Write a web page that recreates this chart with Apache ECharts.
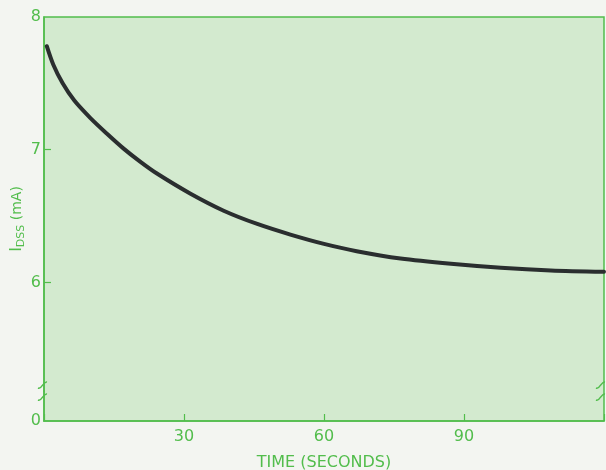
<!DOCTYPE html>
<html>
<head>
<meta charset="utf-8">
<script src="https://cdn.jsdelivr.net/npm/echarts@6/dist/echarts.min.js"></script>
<style>
  html, body { margin: 0; padding: 0; background: #f3f5f1; }
  #chart { width: 606px; height: 470px; }
</style>
</head>
<body>
<div id="chart"></div>
<script>
// Data
var timeSeconds = [0.6, 2.0, 4.0, 6.5, 9.9, 13.5, 17.0, 20.6, 24.2, 31.3, 38.5, 45.7, 52.8, 60.0, 67.0, 76.4, 87.2, 97.9, 108.6, 120];
var idssValues = [7.78, 7.64, 7.50, 7.37, 7.24, 7.12, 7.01, 6.91, 6.82, 6.67, 6.54, 6.44, 6.36, 6.29, 6.235, 6.18, 6.14, 6.11, 6.09, 6.08];
var xTickLabels = [30, 60, 90];
var yTickLabels = [0, 6, 7, 8];
var yTicks = [6, 7];
var yBreak = { start: 0.23, end: 5.185 };

var green = '#52bd4c';
var chart = echarts.init(document.getElementById('chart'), null, { renderer: 'canvas' });

var points = timeSeconds.map(function (t, i) { return [t, idssValues[i]]; });

chart.setOption({
  backgroundColor: '#f3f5f1',
  animation: false,
  grid: {
    left: 44, right: 2, top: 17, bottom: 49,
    show: true,
    backgroundColor: '#d3eacf',
    borderColor: green,
    borderWidth: 1.5,
    outerBoundsMode: 'none'
  },
  xAxis: {
    type: 'value',
    min: 0, max: 120, interval: 30,
    name: 'TIME (SECONDS)',
    nameLocation: 'middle',
    nameGap: 34,
    nameMoveOverlap: false,
    nameTextStyle: { color: green, fontFamily: 'DejaVu Sans', fontSize: 16 },
    axisLine: { show: true, lineStyle: { color: green, width: 1.5 } },
    axisTick: { show: true, inside: true, length: 7, lineStyle: { color: green, width: 1.2 } },
    axisLabel: {
      color: green, fontFamily: 'DejaVu Sans', fontSize: 16, margin: 8,
      formatter: function (v) { return xTickLabels.indexOf(v) >= 0 ? String(v) : ''; }
    },
    splitLine: { show: false }
  },
  yAxis: {
    type: 'value',
    min: 0, max: 8, interval: 1,
    breaks: [{ start: yBreak.start, end: yBreak.end, gap: 0 }],
    breakArea: { show: false },
    name: '{i|I}{s|DSS}{n| (mA)}',
    nameLocation: 'middle',
    nameGap: 17,
    nameRotate: 90,
    nameMoveOverlap: false,
    nameTextStyle: {
      color: green,
      fontFamily: 'DejaVu Sans',
      fontSize: 14,
      rich: {
        i: { fontFamily: 'DejaVu Sans', fontSize: 16, color: green, lineHeight: 20 },
        s: { fontFamily: 'DejaVu Sans', fontSize: 11, color: green, lineHeight: 20, verticalAlign: 'bottom' },
        n: { fontFamily: 'DejaVu Sans', fontSize: 14, color: green, lineHeight: 20 }
      }
    },
    axisLine: { show: true, lineStyle: { color: green, width: 1.5 } },
    axisTick: { show: true, inside: true, length: 7, customValues: yTicks, lineStyle: { color: green, width: 1.2 } },
    axisLabel: {
      color: green, fontFamily: 'DejaVu Sans', fontSize: 16, margin: 3,
      customValues: yTickLabels,
      showMinLabel: true, showMaxLabel: true, hideOverlap: false,
      formatter: function (v) { return String(v); }
    },
    splitLine: { show: false }
  },
  series: [{
    type: 'line',
    data: points,
    smooth: 0.3,
    showSymbol: false,
    lineStyle: { color: '#2a2e2f', width: 4, cap: 'round', join: 'round' },
    z: 3
  }],
  graphic: [
    { type: 'bezierCurve', shape: { x1: 38, y1: 388, x2: 47, y2: 382, cpx1: 42, cpy1: 390, cpx2: 43, cpy2: 381 }, style: { stroke: green, lineWidth: 1.5, fill: null } },
    { type: 'bezierCurve', shape: { x1: 38, y1: 400, x2: 47, y2: 394, cpx1: 42, cpy1: 402, cpx2: 43, cpy2: 393 }, style: { stroke: green, lineWidth: 1.5, fill: null } },
    { type: 'bezierCurve', shape: { x1: 596, y1: 388, x2: 605, y2: 382, cpx1: 600, cpy1: 390, cpx2: 601, cpy2: 381 }, style: { stroke: green, lineWidth: 1.5, fill: null } },
    { type: 'bezierCurve', shape: { x1: 596, y1: 400, x2: 605, y2: 394, cpx1: 600, cpy1: 402, cpx2: 601, cpy2: 393 }, style: { stroke: green, lineWidth: 1.5, fill: null } }
  ]
});
</script>
</body>
</html>
